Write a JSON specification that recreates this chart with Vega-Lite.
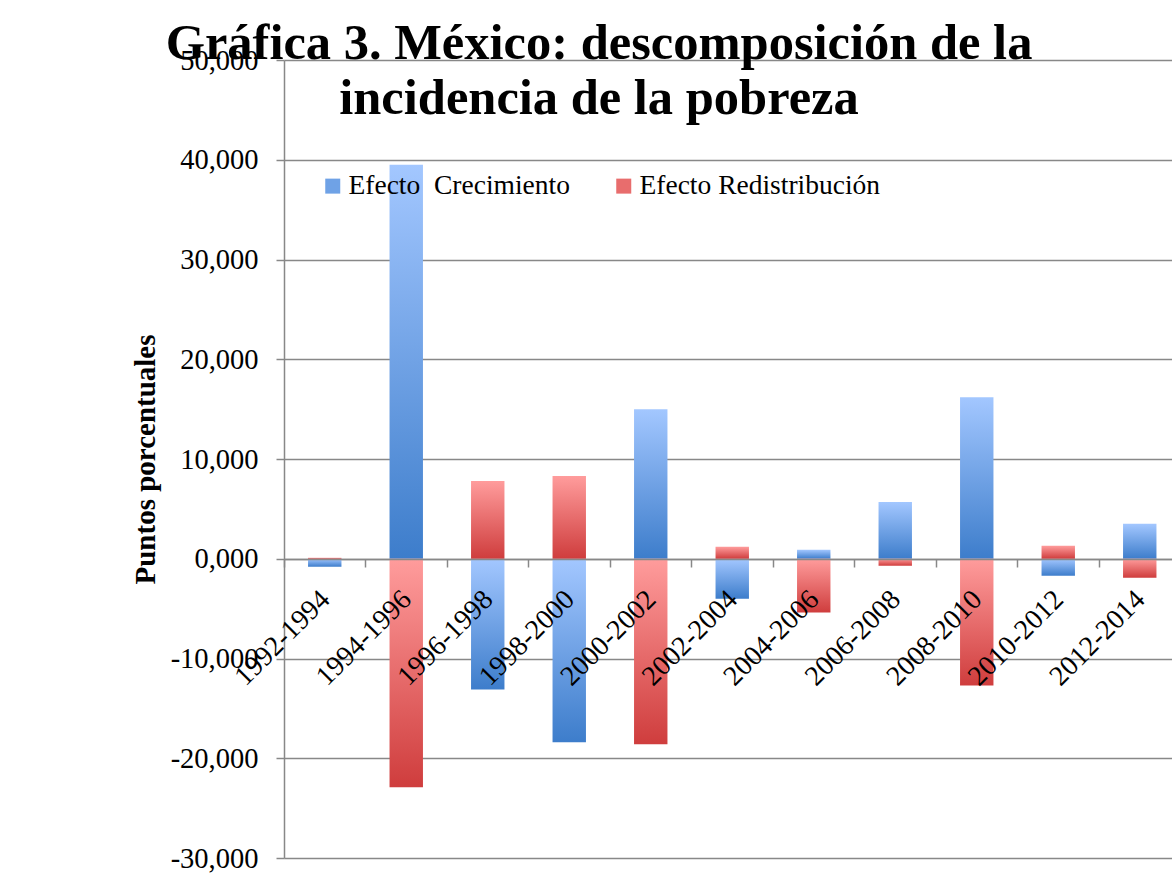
{
  "$schema": "https://vega.github.io/schema/vega-lite/v6.json",
  "width": 888,
  "height": 798,
  "autosize": {"type": "none"},
  "padding": {"left": 284, "top": 60, "right": 0, "bottom": 26},
  "background": "white",
  "title": {
    "text": ["Gráfica 3. México: descomposición de la", "incidencia de la pobreza"],
    "font": "Liberation Serif",
    "fontSize": 50.5,
    "fontWeight": "bold",
    "lineHeight": 55,
    "anchor": "middle",
    "frame": "group",
    "dx": -129,
    "offset": -78,
    "color": "black"
  },
  "data": {
    "values": [
      {"period": "1992-1994", "series": "Efecto  Crecimiento", "value": -0.8},
      {"period": "1992-1994", "series": "Efecto Redistribución", "value": 0.1},
      {"period": "1994-1996", "series": "Efecto  Crecimiento", "value": 39.5},
      {"period": "1994-1996", "series": "Efecto Redistribución", "value": -22.9},
      {"period": "1996-1998", "series": "Efecto  Crecimiento", "value": -13.1},
      {"period": "1996-1998", "series": "Efecto Redistribución", "value": 7.8},
      {"period": "1998-2000", "series": "Efecto  Crecimiento", "value": -18.4},
      {"period": "1998-2000", "series": "Efecto Redistribución", "value": 8.3},
      {"period": "2000-2002", "series": "Efecto  Crecimiento", "value": 15.0},
      {"period": "2000-2002", "series": "Efecto Redistribución", "value": -18.6},
      {"period": "2002-2004", "series": "Efecto  Crecimiento", "value": -4.0},
      {"period": "2002-2004", "series": "Efecto Redistribución", "value": 1.2},
      {"period": "2004-2006", "series": "Efecto  Crecimiento", "value": 0.9},
      {"period": "2004-2006", "series": "Efecto Redistribución", "value": -5.4},
      {"period": "2006-2008", "series": "Efecto  Crecimiento", "value": 5.7},
      {"period": "2006-2008", "series": "Efecto Redistribución", "value": -0.7},
      {"period": "2008-2010", "series": "Efecto  Crecimiento", "value": 16.2},
      {"period": "2008-2010", "series": "Efecto Redistribución", "value": -12.7},
      {"period": "2010-2012", "series": "Efecto  Crecimiento", "value": -1.7},
      {"period": "2010-2012", "series": "Efecto Redistribución", "value": 1.3},
      {"period": "2012-2014", "series": "Efecto  Crecimiento", "value": 3.5},
      {"period": "2012-2014", "series": "Efecto Redistribución", "value": -1.9}
    ]
  },
  "encoding": {
    "x": {
      "field": "period",
      "type": "nominal",
      "sort": null,
      "scale": {"range": [0, 896.5], "paddingInner": 0, "paddingOuter": 0},
      "axis": {
        "title": null,
        "offset": -299,
        "zindex": 1,
        "bandPosition": 0,
        "domainColor": "#888888",
        "domainWidth": 1.5,
        "tickColor": "#888888",
        "tickWidth": 1.5,
        "tickSize": 8,
        "labelAngle": -45,
        "labelAlign": "right",
        "labelBaseline": "middle",
        "labelOffset": 1,
        "labelPadding": 28,
        "labelFont": "Liberation Serif",
        "labelFontSize": 28,
        "labelColor": "black",
        "labelOverlap": false,
        "labelBound": false,
        "labelLimit": 0,
        "grid": false
      }
    },
    "y": {
      "field": "value",
      "type": "quantitative",
      "scale": {"domain": [-30, 50], "nice": false, "zero": false},
      "axis": {
        "values": [-30, -20, -10, 0, 10, 20, 30, 40, 50],
        "labelExpr": "replace(replace(format(datum.value, '.3f'), '.', ','), '−', '-')",
        "title": "Puntos porcentuales",
        "titleFont": "Liberation Serif",
        "titleFontSize": 29,
        "titleFontWeight": "bold",
        "titleColor": "black",
        "titleX": -139,
        "titleY": 399,
        "titleBaseline": "middle",
        "titleAngle": -90,
        "labelFont": "Liberation Serif",
        "labelFontSize": 28.5,
        "labelColor": "black",
        "labelPadding": 18,
        "tickSize": 8,
        "tickColor": "#888888",
        "tickWidth": 1.5,
        "domainColor": "#888888",
        "domainWidth": 1.5,
        "grid": true,
        "gridColor": "#888888",
        "gridWidth": 1.5,
        "labelOverlap": false,
        "labelBound": false
      }
    }
  },
  "layer": [
    {
      "transform": [{"filter": "datum.series === 'Efecto  Crecimiento'"}],
      "mark": {
        "type": "bar",
        "width": {"band": 0.41},
        "fill": {"gradient": "linear", "x1": 0, "y1": 0, "x2": 0, "y2": 1, "stops": [{"offset": 0, "color": "#a3c7ff"}, {"offset": 1, "color": "#3d7dcb"}]}
      }
    },
    {
      "transform": [{"filter": "datum.series === 'Efecto Redistribución'"}],
      "mark": {
        "type": "bar",
        "width": {"band": 0.41},
        "fill": {"gradient": "linear", "x1": 0, "y1": 0, "x2": 0, "y2": 1, "stops": [{"offset": 0, "color": "#ff9c9c"}, {"offset": 1, "color": "#cf3d3d"}]}
      }
    },
    {
      "transform": [{"filter": "false"}],
      "mark": {"type": "bar"},
      "encoding": {
        "fill": {
          "field": "series",
          "type": "nominal",
          "scale": {
            "domain": ["Efecto  Crecimiento", "Efecto Redistribución"],
            "range": ["#6fa2e6", "#e86d6d"]
          },
          "legend": {
            "title": null,
            "orient": "none",
            "legendX": 35,
            "legendY": 112,
            "direction": "horizontal",
            "symbolType": "square",
            "symbolSize": 225,
            "symbolStrokeWidth": 0,
            "labelFont": "Liberation Serif",
            "labelFontSize": 27.5,
            "labelColor": "black",
            "labelOffset": 2,
            "labelLimit": 0,
            "labelExpr": "replace(datum.label, '  ', ' \u00a0')",
            "columnPadding": 40,
            "padding": 0
          }
        }
      }
    }
  ],
  "config": {
    "view": {"stroke": null}
  }
}
